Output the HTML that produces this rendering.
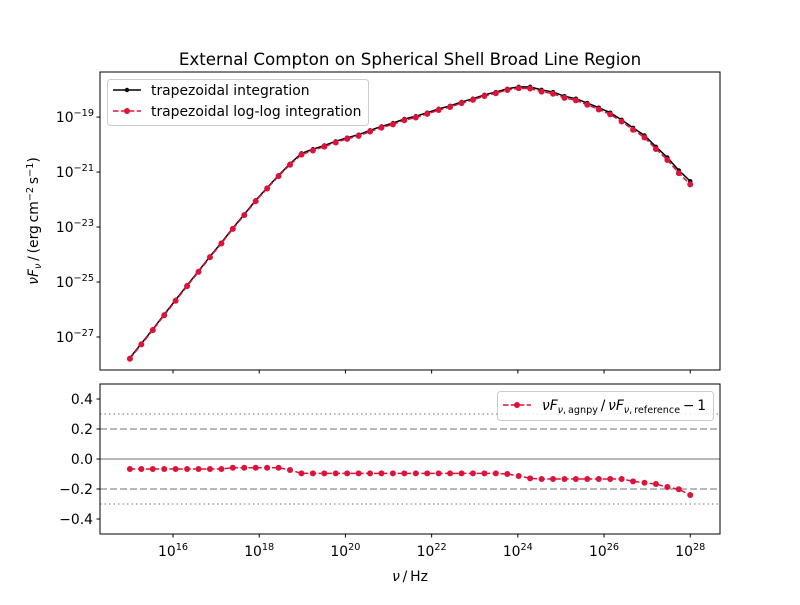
<!DOCTYPE html>
<html><head><meta charset="utf-8"><style>
body{margin:0;background:#fff}
svg{font-family:"DejaVu Sans","Liberation Sans",sans-serif}
</style></head><body>
<svg id="chart" width="800" height="600" viewBox="0 0 800 600" xmlns="http://www.w3.org/2000/svg">
<rect width="800" height="600" fill="#fff"/>
<text x="410" y="65" font-size="16.7" text-anchor="middle">External Compton on Spherical Shell Broad Line Region</text>
<g id="gtop"></g>
<g id="gbot"></g>
</svg>
<script>
const logNuStart = 15, logNuEnd = 28, nPoints = 50;
const logSedRef = [-27.76,-27.24,-26.72,-26.18,-25.65,-25.12,-24.60,-24.07,-23.57,-23.04,-22.54,-22.03,-21.57,-21.12,-20.70,-20.32,-20.17,-20.03,-19.88,-19.75,-19.64,-19.48,-19.34,-19.22,-19.07,-18.97,-18.84,-18.70,-18.59,-18.45,-18.33,-18.19,-18.09,-17.97,-17.90,-17.90,-18.01,-18.09,-18.24,-18.33,-18.49,-18.66,-18.84,-19.10,-19.39,-19.67,-20.08,-20.47,-20.94,-21.33];
const ratio = [-0.067,-0.067,-0.067,-0.067,-0.067,-0.067,-0.067,-0.067,-0.067,-0.058,-0.058,-0.058,-0.058,-0.058,-0.073,-0.096,-0.096,-0.096,-0.096,-0.096,-0.096,-0.096,-0.096,-0.096,-0.096,-0.096,-0.096,-0.096,-0.096,-0.096,-0.096,-0.096,-0.096,-0.1,-0.113,-0.129,-0.133,-0.133,-0.133,-0.133,-0.133,-0.133,-0.133,-0.133,-0.149,-0.158,-0.167,-0.187,-0.202,-0.24];
const xTickExp = [16,18,20,22,24,26,28];
const yTickExp = [-19,-21,-23,-25,-27];
const rTicks = [0.4,0.2,0.0,-0.2,-0.4];

const NS="http://www.w3.org/2000/svg";
const L=100,R=720,T1=72,B1=370,T2=384,B2=534;
const xmin=14.306,xmax=28.69;
const ymin=-28.2,ymax=-17.36;
const X=e=>L+(e-xmin)/(xmax-xmin)*(R-L);
const Y1=e=>B1-(e-ymin)/(ymax-ymin)*(B1-T1);
const Y2=v=>B2-(v+0.5)/1.0*(B2-T2);
function mk(tag,attrs,parent,text){const el=document.createElementNS(NS,tag);for(const k in attrs)el.setAttribute(k,attrs[k]);if(text!==undefined)el.textContent=text;parent.appendChild(el);return el;}
const gTop=document.getElementById('gtop'), gBot=document.getElementById('gbot');
const logNu=[];for(let i=0;i<nPoints;i++)logNu.push(logNuStart+(logNuEnd-logNuStart)*i/(nPoints-1));
const FS=13.9, SUP=9.7;

[[0,'none'],[0.2,'7,3'],[-0.2,'7,3'],[0.3,'1.5,3'],[-0.3,'1.5,3']].forEach(([v,d])=>{
 const ln=mk('line',{x1:L,x2:R,y1:Y2(v),y2:Y2(v),stroke:'#a0a0a0','stroke-width':1.5,'stroke-dasharray':d},gBot);
 
 
});

const ptsRef=logNu.map((e,i)=>[X(e),Y1(logSedRef[i])]);
const ptsLog=logNu.map((e,i)=>[X(e),Y1(logSedRef[i]+Math.log10(1+ratio[i]))]);
const s1=mk('polyline',{points:ptsRef.map(p=>p.join(',')).join(' '),fill:'none',stroke:'#000','stroke-width':1.5},gTop);


ptsRef.forEach(p=>{const c=mk('circle',{cx:p[0],cy:p[1],r:2.2,fill:'#000'},gTop);
 
 });
const s2=mk('polyline',{points:ptsLog.map(p=>p.join(',')).join(' '),fill:'none',stroke:'#dc143c','stroke-width':1.5,'stroke-dasharray':'5.5,2.4'},gTop);


ptsLog.forEach(p=>{const c=mk('circle',{cx:p[0],cy:p[1],r:3,fill:'#dc143c'},gTop);
 
 });

const ptsR=logNu.map((e,i)=>[X(e),Y2(ratio[i])]);
const s3=mk('polyline',{points:ptsR.map(p=>p.join(',')).join(' '),fill:'none',stroke:'#dc143c','stroke-width':1.5,'stroke-dasharray':'5.5,2.4'},gBot);


ptsR.forEach(p=>{const c=mk('circle',{cx:p[0],cy:p[1],r:3,fill:'#dc143c'},gBot);
 
 });

const f1=mk('rect',{x:L,y:T1,width:R-L,height:B1-T1,fill:'none',stroke:'#000','stroke-width':1},gTop);


const f2=mk('rect',{x:L,y:T2,width:R-L,height:B2-T2,fill:'none',stroke:'#000','stroke-width':1},gBot);



xTickExp.forEach(e=>{
 const x=X(e);
 mk('line',{x1:x,x2:x,y1:B1,y2:B1+3.5,stroke:'#000'},gTop);
 mk('line',{x1:x,x2:x,y1:B2,y2:B2+3.5,stroke:'#000'},gBot);
 const t=mk('text',{x:x,y:B2+22,'font-size':FS,'text-anchor':'middle'},gBot);
 
 
 mk('tspan',{},t,'10');
 mk('tspan',{dy:-6,'font-size':SUP},t,String(e));
});
yTickExp.forEach(e=>{
 const y=Y1(e);
 mk('line',{x1:L-3.5,x2:L,y1:y,y2:y,stroke:'#000'},gTop);
 const t=mk('text',{x:L-6,y:y+5,'font-size':FS,'text-anchor':'end'},gTop);
 
 
 mk('tspan',{},t,'10');
 mk('tspan',{dy:-6,'font-size':SUP},t,'\u2212'+Math.abs(e));
});
rTicks.forEach(v=>{
 const y=Y2(v);
 mk('line',{x1:L-3.5,x2:L,y1:y,y2:y,stroke:'#000'},gBot);
 const t=mk('text',{x:L-7,y:y+5,'font-size':FS,'text-anchor':'end'},gBot,(v<0?'\u2212':'')+Math.abs(v).toFixed(1));
 
 
});

const xt=mk('text',{x:410,y:581,'font-size':FS,'text-anchor':'middle'},gBot);


mk('tspan',{'font-style':'italic'},xt,'ν');
mk('tspan',{},xt,'\u2009/\u2009Hz');
const yt=mk('text',{x:0,y:0,'font-size':FS,'text-anchor':'middle',transform:'translate(38,221) rotate(-90)'},gTop);


mk('tspan',{'font-style':'italic'},yt,'νF');
mk('tspan',{'font-style':'italic',dy:3,'font-size':SUP},yt,'ν');
mk('tspan',{dy:-3},yt,'\u2009/\u2009(erg\u2009cm');
mk('tspan',{dy:-5,'font-size':SUP},yt,'\u22122');
mk('tspan',{dy:5},yt,'\u2009s');
mk('tspan',{dy:-5,'font-size':SUP},yt,'\u22121');
mk('tspan',{dy:5},yt,')');

const lg=mk('g',{},gTop);


mk('rect',{x:107.5,y:79.5,width:261,height:46,rx:3,fill:'#fff','fill-opacity':0.8,stroke:'#ccc'},lg);
mk('line',{x1:113,x2:141,y1:90,y2:90,stroke:'#000','stroke-width':1.5},lg);
mk('circle',{cx:127,cy:90,r:2.2,fill:'#000'},lg);
mk('text',{x:151,y:95,'font-size':FS},lg,'trapezoidal integration');
mk('line',{x1:113,x2:141,y1:111,y2:111,stroke:'#dc143c','stroke-width':1.5,'stroke-dasharray':'5.5,2.4'},lg);
mk('circle',{cx:127,cy:111,r:3,fill:'#dc143c'},lg);
mk('text',{x:151,y:116,'font-size':FS},lg,'trapezoidal log-log integration');

const lg2=mk('g',{},gBot);


mk('rect',{x:497.5,y:391.5,width:216,height:29,rx:3,fill:'#fff','fill-opacity':0.8,stroke:'#ccc'},lg2);
mk('line',{x1:503,x2:531,y1:405,y2:405,stroke:'#dc143c','stroke-width':1.5,'stroke-dasharray':'5.5,2.4'},lg2);
mk('circle',{cx:517,cy:405,r:3,fill:'#dc143c'},lg2);
const lt=mk('text',{x:542,y:410,'font-size':FS,textLength:164,lengthAdjust:'spacingAndGlyphs'},lg2);
mk('tspan',{'font-style':'italic'},lt,'νF');
mk('tspan',{'font-style':'italic',dy:3,'font-size':SUP},lt,'ν');
mk('tspan',{'font-size':SUP},lt,',\u2009agnpy');
mk('tspan',{dy:-3},lt,'\u2009/\u2009');
mk('tspan',{'font-style':'italic'},lt,'νF');
mk('tspan',{'font-style':'italic',dy:3,'font-size':SUP},lt,'ν');
mk('tspan',{'font-size':SUP},lt,',\u2009reference');
mk('tspan',{dy:-3},lt,'\u2009\u2212\u20091');
</script>
</body></html>
